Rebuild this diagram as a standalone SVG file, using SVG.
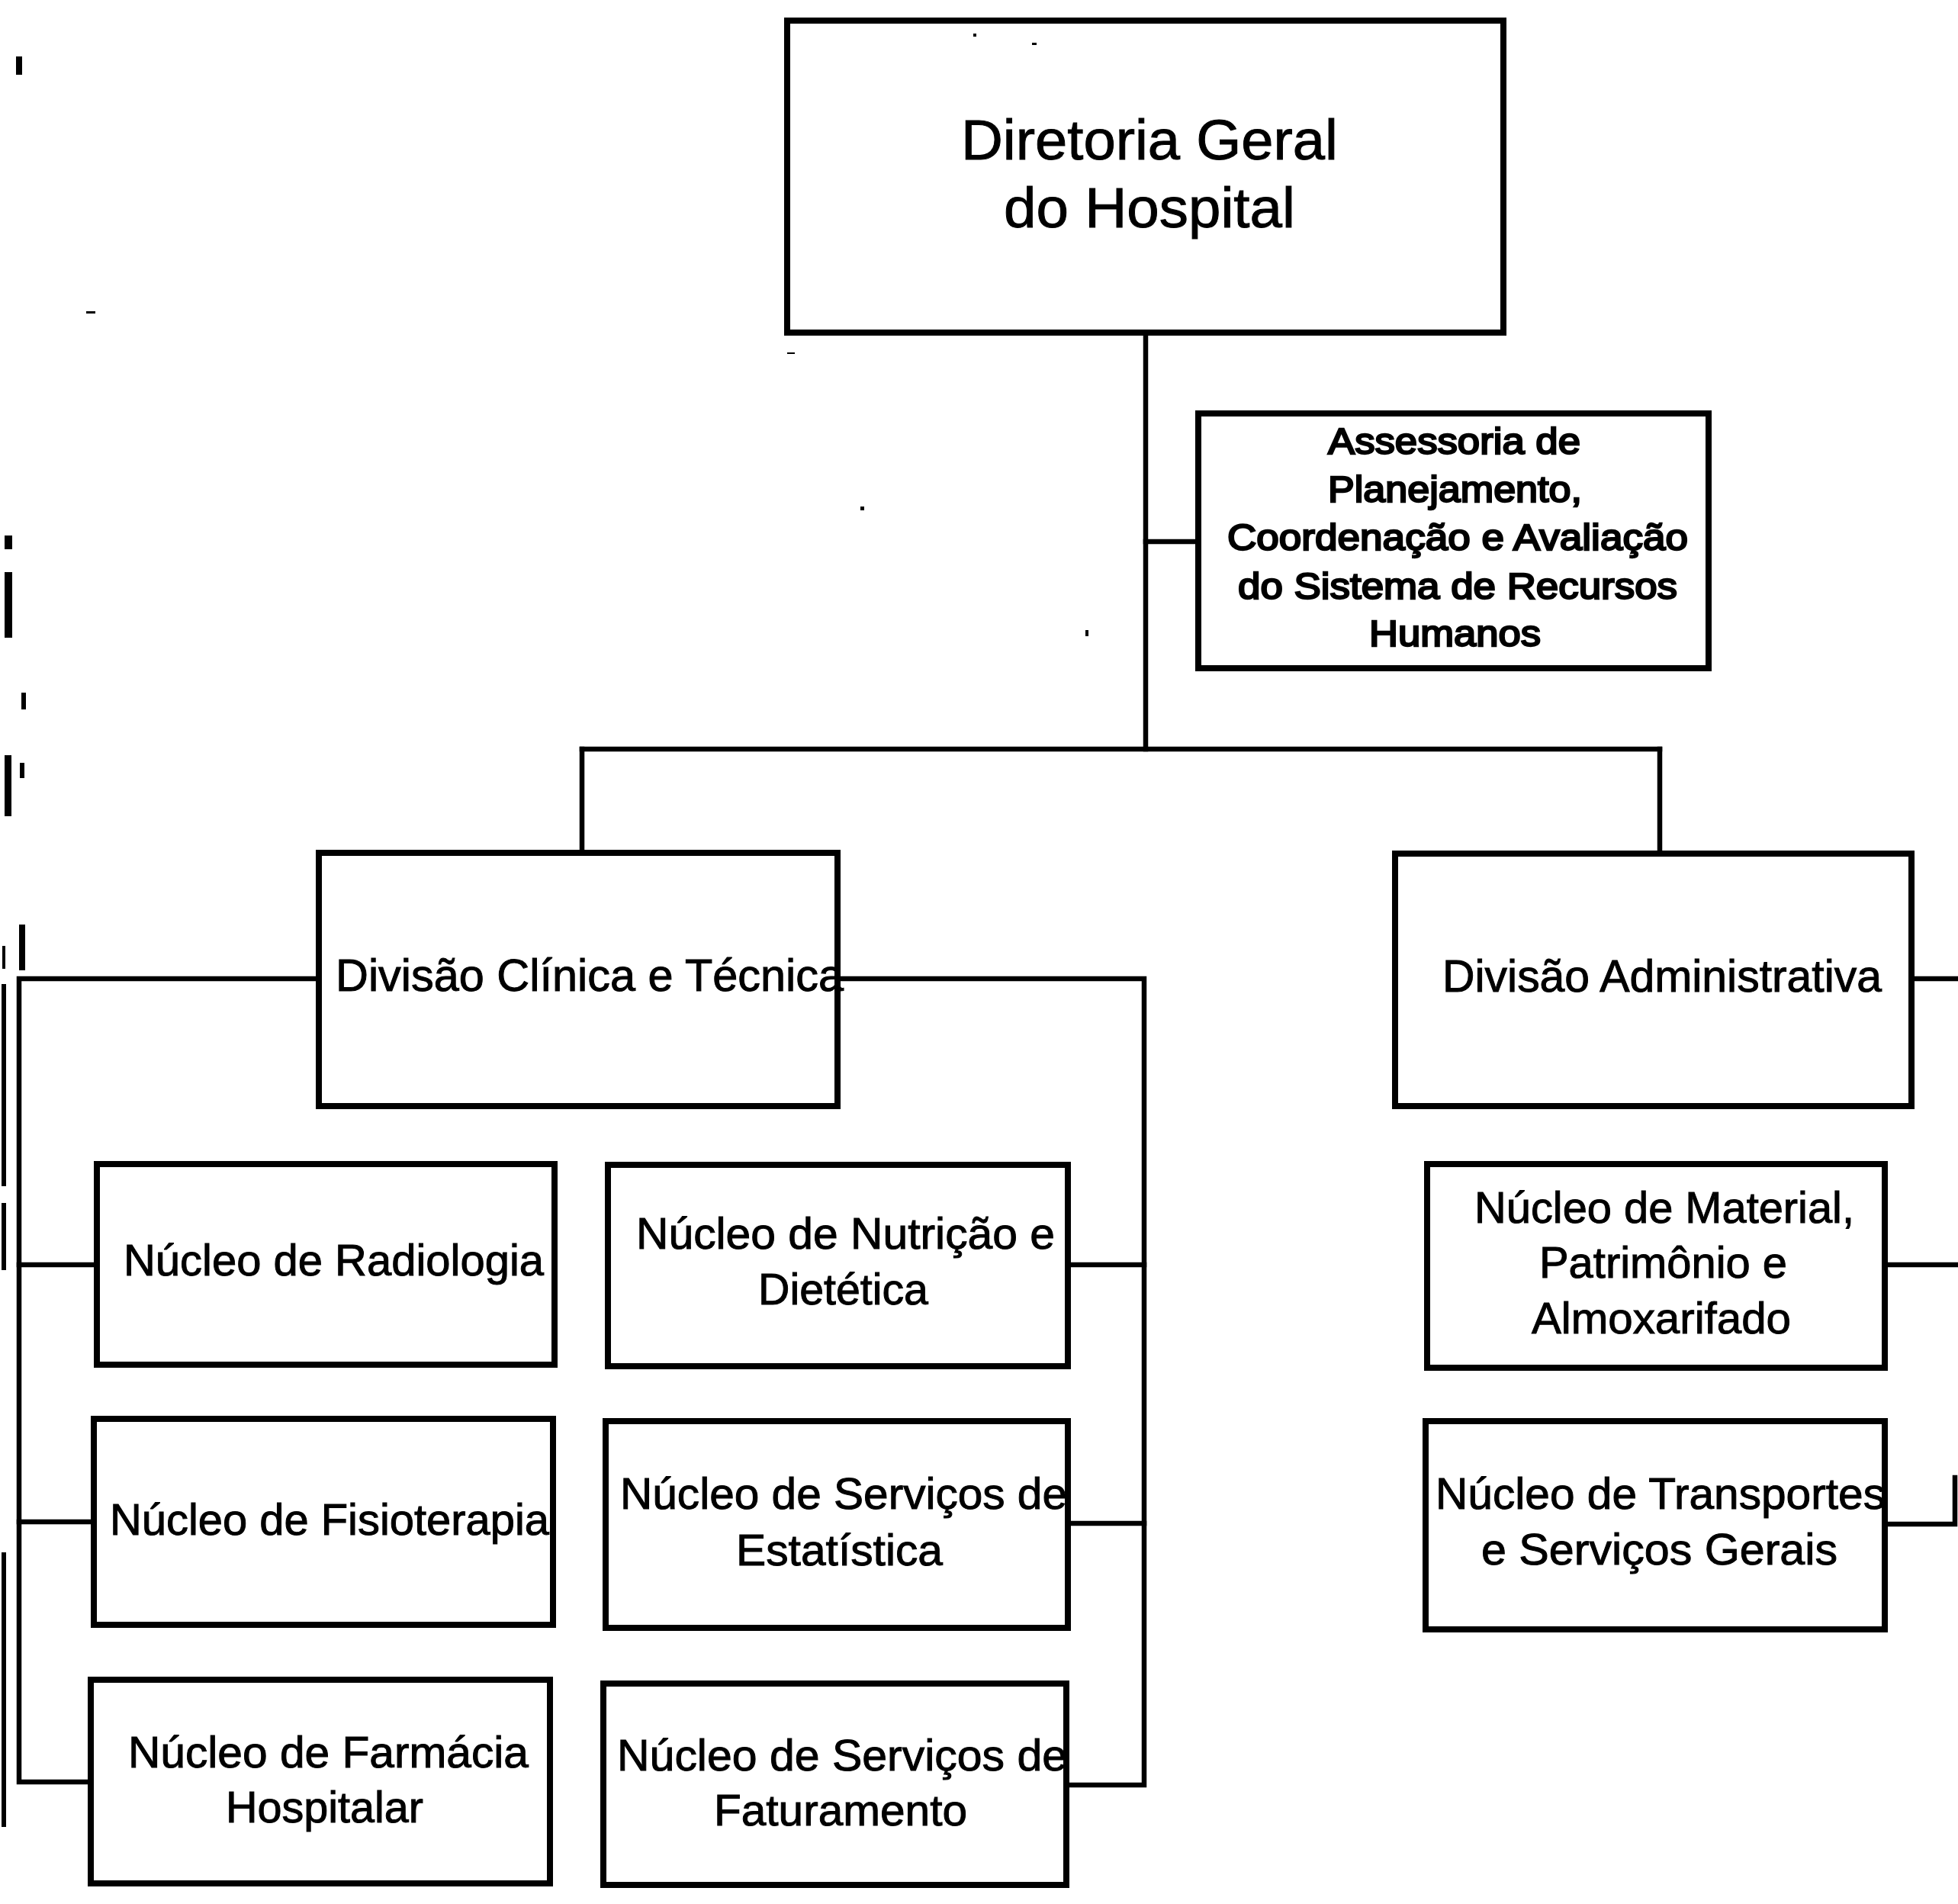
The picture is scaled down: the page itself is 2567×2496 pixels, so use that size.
<svg xmlns="http://www.w3.org/2000/svg" width="2567" height="2496" viewBox="0 0 2567 2496">
<style>
.box{fill:#fff;stroke:#000;stroke-width:8}
.ln{stroke:#000;stroke-width:6.5;fill:none;stroke-linecap:square}
.t{font-family:"Liberation Sans",Arial,sans-serif;fill:#000;stroke:#000;stroke-width:1}
.t58{font-size:58px}
.bold{font-size:49px;stroke-width:2.4}
.mk{fill:#000}
</style>
<rect width="2567" height="2496" fill="#fff"/>
<g id="connectors">
<path class="ln" d="M1502 439 V982"/>
<path class="ln" d="M1502 710 H1568"/>
<path class="ln" d="M763 982 H2176"/>
<path class="ln" d="M763 982 V1115"/>
<path class="ln" d="M2176 982 V1116"/>
<path class="ln" d="M415 1283 H25 V2336 H116"/>
<path class="ln" d="M25 1658 H124"/>
<path class="ln" d="M25 1995 H120"/>
<path class="ln" d="M1101 1283 H1500 V2340 H1401"/>
<path class="ln" d="M1403 1658 H1500"/>
<path class="ln" d="M1403 1997 H1500"/>
<path class="ln" d="M2509 1283 H2567"/>
<path class="ln" d="M2474 1658 H2567"/>
<path class="ln" d="M2474 1998 H2563 V1937"/>
</g>
<g id="n-diretoria">
<rect class="box" x="1032" y="27" width="939" height="409"/>
<text class="t" font-size="75" x="1260" y="209" textLength="494" lengthAdjust="spacingAndGlyphs">Diretoria Geral</text>
<text class="t" font-size="75" x="1316" y="298" textLength="382" lengthAdjust="spacingAndGlyphs">do Hospital</text>
</g>
<g id="n-assessoria">
<rect class="box" x="1571" y="542" width="669" height="334"/>
<text class="t bold" x="1741" y="595" textLength="331" lengthAdjust="spacingAndGlyphs">Assessoria de</text>
<text class="t bold" x="1741" y="658" textLength="333" lengthAdjust="spacingAndGlyphs">Planejamento,</text>
<text class="t bold" x="1609" y="721" textLength="604" lengthAdjust="spacingAndGlyphs">Coordenação e Avaliação</text>
<text class="t bold" x="1623" y="785" textLength="576" lengthAdjust="spacingAndGlyphs">do Sistema de Recursos</text>
<text class="t bold" x="1795" y="847" textLength="225" lengthAdjust="spacingAndGlyphs">Humanos</text>
</g>
<g id="n-div-clinica">
<rect class="box" x="418" y="1118" width="680" height="332"/>
<text class="t" font-size="60" x="440" y="1299" textLength="666" lengthAdjust="spacingAndGlyphs">Divisão Clínica e Técnica</text>
</g>
<g id="n-div-adm">
<rect class="box" x="1829" y="1119" width="677" height="331"/>
<text class="t" font-size="59" x="1891" y="1300" textLength="576" lengthAdjust="spacingAndGlyphs">Divisão Administrativa</text>
</g>
<g id="n-radiologia">
<rect class="box" x="127" y="1526" width="600" height="263"/>
<text class="t t58" x="162" y="1672" textLength="551" lengthAdjust="spacingAndGlyphs">Núcleo de Radiologia</text>
</g>
<g id="n-fisioterapia">
<rect class="box" x="123" y="1860" width="602" height="270"/>
<text class="t t58" x="144" y="2012" textLength="576" lengthAdjust="spacingAndGlyphs">Núcleo de Fisioterapia</text>
</g>
<g id="n-farmacia">
<rect class="box" x="119" y="2202" width="602" height="267"/>
<text class="t t58" x="168" y="2317" textLength="525" lengthAdjust="spacingAndGlyphs">Núcleo de Farmácia</text>
<text class="t t58" x="296" y="2389" textLength="259" lengthAdjust="spacingAndGlyphs">Hospitalar</text>
</g>
<g id="n-nutricao">
<rect class="box" x="797" y="1527" width="603" height="264"/>
<text class="t t58" x="834" y="1637" textLength="549" lengthAdjust="spacingAndGlyphs">Núcleo de Nutrição e</text>
<text class="t t58" x="994" y="1710" textLength="223" lengthAdjust="spacingAndGlyphs">Dietética</text>
</g>
<g id="n-estatistica">
<rect class="box" x="794" y="1863" width="606" height="271"/>
<text class="t t58" x="813" y="1978" textLength="586" lengthAdjust="spacingAndGlyphs">Núcleo de Serviços de</text>
<text class="t t58" x="965" y="2052" textLength="271" lengthAdjust="spacingAndGlyphs">Estatística</text>
</g>
<g id="n-faturamento">
<rect class="box" x="791" y="2207" width="607" height="264"/>
<text class="t t58" x="809" y="2321" textLength="590" lengthAdjust="spacingAndGlyphs">Núcleo de Serviços de</text>
<text class="t t58" x="936" y="2393" textLength="332" lengthAdjust="spacingAndGlyphs">Faturamento</text>
</g>
<g id="n-material">
<rect class="box" x="1871" y="1526" width="600" height="267"/>
<text class="t t58" x="1933" y="1603" textLength="498" lengthAdjust="spacingAndGlyphs">Núcleo de Material,</text>
<text class="t t58" x="2018" y="1675" textLength="325" lengthAdjust="spacingAndGlyphs">Patrimônio e</text>
<text class="t t58" x="2008" y="1748" textLength="340" lengthAdjust="spacingAndGlyphs">Almoxarifado</text>
</g>
<g id="n-transportes">
<rect class="box" x="1869" y="1863" width="602" height="273"/>
<text class="t t58" x="1882" y="1978" textLength="590" lengthAdjust="spacingAndGlyphs">Núcleo de Transportes</text>
<text class="t t58" x="1942" y="2051" textLength="467" lengthAdjust="spacingAndGlyphs">e Serviços Gerais</text>
</g>
<g id="scan-marks">
<rect class="mk" x="21" y="74" width="8" height="24"/>
<rect class="mk" x="113" y="408" width="12" height="3"/>
<rect class="mk" x="6" y="702" width="10" height="18"/>
<rect class="mk" x="6" y="750" width="10" height="86"/>
<rect class="mk" x="28" y="908" width="6" height="22"/>
<rect class="mk" x="6" y="990" width="9" height="80"/>
<rect class="mk" x="26" y="1000" width="6" height="20"/>
<rect class="mk" x="25" y="1212" width="8" height="60"/>
<rect class="mk" x="3" y="1240" width="4" height="30"/>
<rect class="mk" x="2" y="1290" width="6" height="265"/>
<rect class="mk" x="2" y="1577" width="6" height="88"/>
<rect class="mk" x="2" y="2035" width="6" height="360"/>
<rect class="mk" x="1128" y="664" width="5" height="5"/>
<rect class="mk" x="1423" y="826" width="4" height="8"/>
<rect class="mk" x="1276" y="44" width="4" height="4"/>
<rect class="mk" x="1353" y="56" width="6" height="3"/>
<rect class="mk" x="1032" y="462" width="10" height="2"/>
</g>
</svg>
